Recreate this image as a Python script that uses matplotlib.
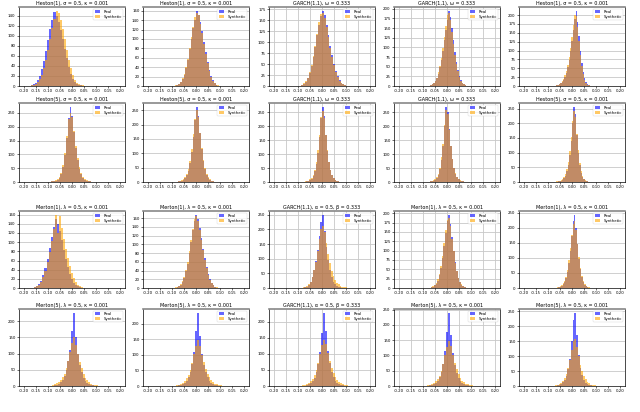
import numpy as np
import matplotlib.pyplot as plt

# bin counts, one pair of lists per panel (row, col)
real = [
    [[1,3,6,11,20,33,50,70,92,114,132,148,140,128,112,94,74,55,38,24,14,8,4,2,1,0],
     [1,2,4,8,14,24,38,56,78,100,124,140,160,152,136,116,94,72,52,35,22,12,6,3,1,1],
     [1,2,5,10,18,30,46,66,90,116,140,160,172,162,140,116,92,70,50,34,22,13,7,4,2,1],
     [1,2,4,7,12,20,32,48,68,92,118,145,172,195,180,150,118,88,62,42,27,16,9,5,2,1],
     [0,1,2,3,5,8,12,18,26,38,54,74,98,126,158,190,212,180,140,100,66,40,22,11,5,2]],
    [[1,2,3,5,9,16,30,54,96,160,230,272,240,180,122,78,48,28,16,9,5,3,2,1,1,0],
     [0,1,2,3,5,8,14,24,40,66,104,156,216,262,230,170,116,74,44,26,15,8,4,2,1,1],
     [0,1,1,2,4,7,12,22,38,64,104,160,230,270,236,170,112,70,42,24,13,7,4,2,1,0],
     [0,1,2,3,5,8,14,26,46,80,130,200,270,250,190,128,82,50,30,17,9,5,3,2,1,0],
     [0,1,1,2,3,5,8,13,22,36,58,92,140,200,256,230,160,100,58,32,17,9,5,2,1,0]],
    [[1,2,4,9,16,28,44,64,88,112,134,150,140,124,104,84,64,46,31,20,12,7,4,2,1,0],
     [1,2,4,8,14,24,38,56,80,106,132,154,168,158,138,114,90,68,48,32,20,11,6,3,1,1],
     [1,2,5,10,20,36,60,92,130,176,226,250,196,140,96,62,38,22,12,7,4,2,1,1,0,0],
     [0,1,2,4,7,12,20,34,54,80,112,148,180,196,172,136,100,70,46,28,16,9,5,2,1,0],
     [0,1,1,2,4,7,12,20,34,54,84,124,172,222,244,200,146,98,62,36,20,10,5,2,1,0]],
    [[0,1,2,4,7,12,20,32,50,76,112,170,226,150,100,66,42,26,16,10,6,3,2,1,0,0],
     [0,1,2,3,6,10,17,28,46,72,110,176,236,160,104,68,44,28,17,10,6,3,2,1,0,0],
     [0,1,1,3,5,9,15,26,42,68,106,166,228,172,110,70,44,27,16,9,5,3,2,1,0,0],
     [0,1,2,3,6,10,17,28,45,72,114,178,240,166,108,70,44,27,16,9,5,3,2,1,0,0],
     [0,1,1,2,4,7,12,20,34,56,92,150,220,246,170,104,62,36,20,11,6,3,2,1,0,0]],
]
synth = [
    [[2,2,4,7,13,22,36,52,72,94,116,134,150,146,132,114,94,72,52,35,21,12,6,3,2,1],
     [2,3,5,9,16,26,40,58,80,104,126,146,156,150,132,112,90,68,48,32,20,11,6,3,2,1],
     [1,3,6,11,19,31,48,68,92,120,146,164,166,156,136,112,88,66,48,32,20,12,7,4,2,1],
     [1,2,4,8,14,22,35,52,72,98,126,156,184,190,170,140,108,80,56,38,24,14,8,4,2,1],
     [1,1,2,4,6,9,14,21,30,43,60,82,108,138,172,200,198,166,126,88,56,33,18,9,4,2]],
    [[1,2,3,6,11,19,34,60,104,168,226,250,236,186,130,86,54,32,19,11,6,3,2,1,1,1],
     [1,1,2,4,6,10,17,28,46,74,114,166,220,250,226,172,120,78,48,28,16,9,5,3,1,1],
     [1,1,2,3,5,9,15,26,44,72,114,170,232,256,228,168,114,72,44,26,15,8,4,2,1,1],
     [1,1,2,3,6,10,17,30,52,88,138,204,258,244,186,128,84,52,31,18,10,6,3,2,1,1],
     [1,1,2,3,4,7,11,17,28,44,68,104,152,206,240,222,164,108,66,38,21,11,6,3,1,1]],
    [[1,2,4,7,13,23,38,56,78,102,128,160,120,158,132,108,86,66,48,33,21,13,7,4,2,1],
     [2,3,5,9,16,26,42,60,84,110,136,158,164,154,134,110,86,64,46,30,19,11,6,3,2,1],
     [2,4,7,12,22,38,60,90,126,166,200,212,190,154,116,84,58,40,27,18,12,8,5,3,2,1],
     [1,1,3,5,8,14,23,37,58,86,120,154,182,188,166,132,98,68,45,28,17,10,5,3,1,1],
     [1,1,2,3,5,9,15,24,38,60,92,132,178,214,222,194,148,102,66,40,23,12,6,3,2,1]],
    [[1,3,5,8,12,18,27,38,54,76,104,132,150,126,98,74,54,38,26,17,11,7,4,3,2,1],
     [1,2,4,7,11,17,25,36,52,74,102,130,148,128,100,76,56,40,28,19,12,8,5,3,2,1],
     [1,2,4,6,10,15,23,34,50,72,100,128,144,132,104,78,57,41,29,20,13,8,5,3,2,1],
     [1,2,3,6,10,15,23,34,50,72,100,128,146,130,102,76,55,39,27,18,12,8,5,3,2,1],
     [1,1,2,4,7,11,17,26,40,60,88,122,150,156,132,100,72,50,34,22,14,9,5,3,2,1]],
]
# data range of the bins in each panel
ranges = [
    [(-0.17, 0.05), (-0.089, 0.104), (-0.093, 0.108), (-0.075, 0.085), (-0.078, 0.073)],
    [(-0.093, 0.103), (-0.09, 0.09), (-0.085, 0.085), (-0.085, 0.085), (-0.077, 0.077)],
    [(-0.165, 0.055), (-0.088, 0.098), (-0.08, 0.11), (-0.08, 0.09), (-0.075, 0.08)],
    [(-0.09, 0.115), (-0.09, 0.115), (-0.09, 0.115), (-0.09, 0.115), (-0.085, 0.105)],
]
titles = [
    ["Heston(1), σ = 0.5, κ = 0.001"] * 2 + ["GARCH(1,1), ω = 0.333"] * 2 + ["Heston(1), σ = 0.5, κ = 0.001"],
    ["Heston(5), σ = 0.5, κ = 0.001"] * 2 + ["GARCH(1,1), ω = 0.333"] * 2 + ["Heston(5), σ = 0.5, κ = 0.001"],
    ["Merton(1), λ = 0.5, κ = 0.001"] * 2 + ["GARCH(1,1), α = 0.5, β = 0.333"] + ["Merton(1), λ = 0.5, κ = 0.001"] * 2,
    ["Merton(5), λ = 0.5, κ = 0.001"] * 2 + ["GARCH(1,1), α = 0.5, β = 0.333"] + ["Merton(5), λ = 0.5, κ = 0.001"] * 2,
]
xticks = [-0.20, -0.15, -0.10, -0.05, 0.00, 0.05, 0.10, 0.15, 0.20]

fig = plt.figure(figsize=(6.4, 4.12), dpi=100)

lefts = [19, 143, 269, 394, 519]
rows = [(7, 86), (103, 182), (211, 288), (309, 386)]

for r in range(4):
    for c in range(5):
        top, bot = rows[r]
        ax = fig.add_axes([lefts[c] / 640, 1 - bot / 412, 106 / 640, (bot - top) / 412])
        lo, hi = ranges[r][c]
        edges = np.linspace(lo, hi, len(real[r][c]) + 1)
        w = edges[1] - edges[0]
        ax.bar(edges[:-1], real[r][c], width=w, align='edge', color='blue', alpha=0.6, label='Real', linewidth=0)
        ax.bar(edges[:-1], synth[r][c], width=w, align='edge', color='orange', alpha=0.6, label='Synthetic', linewidth=0)
        ax.set_xlim(-0.22, 0.22)
        ax.set_xticks(xticks)
        ax.set_xticklabels([f'{t:.2f}' for t in xticks])
        ax.tick_params(labelsize=2.8, length=1.5, width=0.4, pad=1)
        ax.grid(True, axis='y', color='#c8c8c8', linewidth=0.6)
        if c in (2, 3):
            ax.grid(True, axis='x', color='#c8c8c8', linewidth=0.6)
        ax.set_axisbelow(True)
        for s in ax.spines.values():
            s.set_linewidth(0.5)
        ax.spines['top'].set_color('#888888')
        ax.spines['top'].set_linewidth(1.2)
        ax.set_title(titles[r][c], fontsize=3.5, pad=1.5)
        ax.legend(loc='upper right', fontsize=2.8, handlelength=1.5, borderpad=0.3, labelspacing=0.2, framealpha=0.8, edgecolor='#cccccc').get_frame().set_linewidth(0.3)

plt.savefig('out.png', dpi=100)
plt.close()
